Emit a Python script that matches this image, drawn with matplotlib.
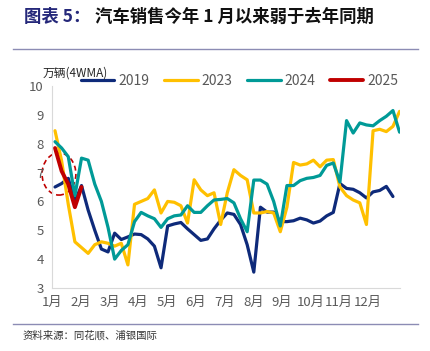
import numpy as np
import matplotlib
matplotlib.use("Agg")
import matplotlib.pyplot as plt
from matplotlib.patches import Ellipse
from matplotlib.lines import Line2D

plt.rcParams['font.family'] = ['Noto Sans CJK SC', 'DejaVu Sans']

# weekly car sales, 4-week moving average (10k units)
months = ['1月', '2月', '3月', '4月', '5月', '6月', '7月', '8月', '9月', '10月', '11月', '12月']
s2019 = [6.5, 6.62, 6.8, 6.0, 6.55, 5.7, 5.0, 4.35, 4.25, 4.9, 4.68, 4.77, 4.87, 4.85, 4.7,
         4.45, 3.7, 5.15, 5.22, 5.27, 5.05, 4.85, 4.65, 4.7, 5.05, 5.35, 5.6, 5.55, 5.2, 4.5,
         3.55, 5.8, 5.63, 5.63, 5.3, 5.3, 5.33, 5.42, 5.36, 5.25, 5.32, 5.5, 5.62, 6.62, 6.45,
         6.42, 6.3, 6.12, 6.33, 6.38, 6.52, 6.17]
s2023 = [8.45, 7.4, 5.9, 4.6, 4.4, 4.2, 4.5, 4.6, 4.55, 4.45, 4.55, 3.8, 5.9, 6.0, 6.1,
         6.4, 5.6, 6.0, 5.97, 5.85, 5.25, 6.75, 6.4, 6.2, 6.3, 5.2, 6.3, 7.1, 6.9, 6.75,
         5.6, 5.6, 5.65, 5.6, 4.95, 5.8, 7.35, 7.26, 7.3, 7.43, 7.2, 7.43, 7.45, 6.5, 6.2,
         6.05, 5.95, 5.2, 8.45, 8.5, 8.42, 8.6, 9.12]
s2024 = [8.07, 7.85, 7.55, 6.2, 7.5, 7.43, 6.6, 6.0, 5.1, 4.0, 4.3, 4.5, 5.3, 5.62, 5.5,
         5.4, 5.1, 5.4, 5.5, 5.53, 5.85, 5.62, 5.62, 5.85, 6.05, 6.07, 6.1, 5.95, 5.4, 4.95,
         6.74, 6.74, 6.6, 6.0, 5.15, 6.55, 6.55, 6.72, 6.8, 6.83, 6.9, 7.25, 7.33, 6.67, 8.8,
         8.37, 8.72, 8.65, 8.62, 8.8, 8.95, 9.15, 8.4]
s2025 = [7.85, 7.05, 6.6, 5.8, 6.5]

fig = plt.figure(figsize=(4.3, 3.51), dpi=100)
ax = fig.add_axes([0.121, 0.1795, 0.809, 0.5755])

ax.plot(np.arange(len(s2019)), s2019, color='#0E2A7A', lw=2.3, label='2019', solid_capstyle='round')
ax.plot(np.arange(len(s2023)), s2023, color='#FFC000', lw=2.3, label='2023', solid_capstyle='round')
ax.plot(np.arange(len(s2024)), s2024, color='#009A97', lw=2.3, label='2024', solid_capstyle='round')
ax.plot(np.arange(len(s2025)), s2025, color='#C00000', lw=2.8, label='2025', solid_capstyle='round')

# dashed circle around the start of 2025
ax.add_patch(Ellipse((0.6, 6.95), 5.1, 1.46, fill=False, ls=(0, (3, 2)), lw=1.2,
                     edgecolor='#C00000', clip_on=False))

ax.set_xlim(-0.45, 52.05)
ax.set_ylim(3, 10)
ax.set_yticks(range(3, 11))
ax.set_xticks(np.arange(12) * 4.33 - 0.4)
ax.set_xticklabels(months)
ax.tick_params(length=0, labelsize=9.5, colors='#595959', pad=6)
for s in ['top', 'right']:
    ax.spines[s].set_visible(False)
for s in ['left', 'bottom']:
    ax.spines[s].set_color('#D9D9D9')
    ax.spines[s].set_linewidth(0.8)

leg = ax.legend(loc='center', bbox_to_anchor=(0.54, 1.027), ncol=4, frameon=False,
                fontsize=10, handlelength=2.4, handletextpad=0.3, columnspacing=1.05,
                borderaxespad=0)
for t in leg.get_texts():
    t.set_color('#595959')

fig.text(0.1, 0.792, '万辆(4WMA)', fontsize=8.5, color='#262626', va='center')

fig.text(0.056, 0.952, '图表 5：', fontsize=12.5, fontweight='bold', color='#25287A', va='center')
fig.text(0.221, 0.952, '汽车销售今年 1 月以来弱于去年同期', fontsize=12.5, fontweight='bold',
         color='#111111', va='center')
fig.add_artist(Line2D([0.03, 0.972], [0.86, 0.86], color='#8C8CB4', lw=1))
fig.add_artist(Line2D([0.03, 0.972], [0.077, 0.077], color='#8C8CB4', lw=1))
fig.text(0.0535, 0.0456, '资料来源：同花顺、浦银国际', fontsize=7.5, color='#333333', va='center')

fig.savefig('out.png', dpi=100)
